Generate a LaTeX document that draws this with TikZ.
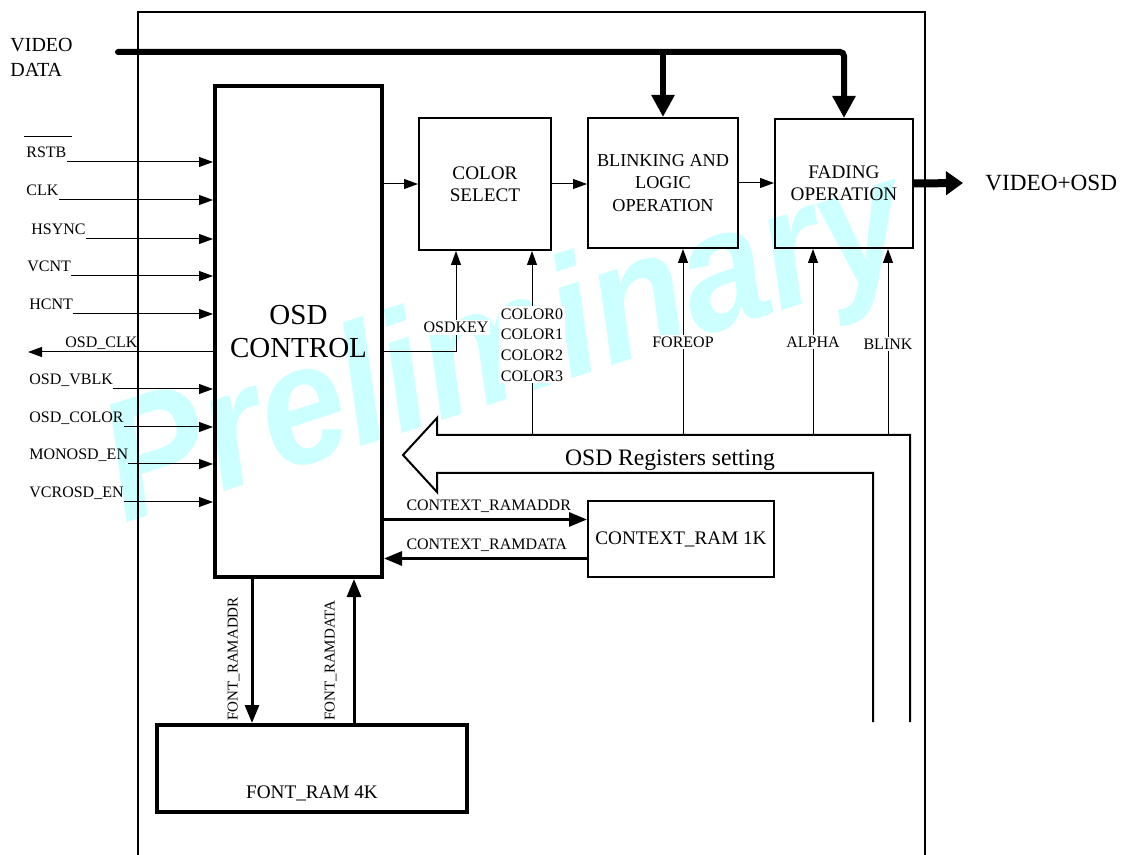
\documentclass[tikz,border=0pt]{standalone}
\usepackage{fontspec}
\setmainfont{Liberation Serif}
\newfontfamily\wmfont{Liberation Sans}
\usetikzlibrary{arrows.meta}
\definecolor{wmcyan}{RGB}{204,255,255}

\begin{document}
\begin{tikzpicture}[
  x=0.5pt, y=-0.5pt,
  box/.style={draw, line width=1pt, align=center, inner sep=0pt,
    font=\fontsize{9.6}{11}\selectfont},
  lbl/.style={inner xsep=0pt, inner ysep=2pt, text depth=0pt,
    font=\fontsize{8}{10}\selectfont},
  vlbl/.style={inner sep=0pt, text depth=0pt, font=\fontsize{7.5}{9}\selectfont},
  tag/.style={fill=white, inner sep=1pt, align=left,
    font=\fontsize{8}{10.35}\selectfont},
  sig/.style={line width=0.5pt, -{Triangle[length=7pt,width=5pt]}},
  fat/.style={line width=1.5pt, -{Triangle[length=9pt,width=7pt]}},
  bus/.style={line width=3pt, -{Triangle[length=11pt,width=11pt]}}
]
  \useasboundingbox (0,0) rectangle (1125,855);

  \node[
    rotate=18,
    xscale=0.9,
    anchor=base west,
    inner sep=0pt,
    text=wmcyan,
    font=\wmfont\bfseries\itshape\fontsize{85}{90}\selectfont
  ] (wmark) at (124,524) {Preliminary};

  \draw[line width=0.6pt] (138,855) -- (138,12) -- (925,12) -- (925,855);

  \node[box, line width=2pt, minimum width=83.5pt, minimum height=245.5pt,
    font=\fontsize{14.5}{16.5}\selectfont] (osd) at (298.5,331.5) {OSD\\CONTROL};
  \node[box, minimum width=66pt, minimum height=66pt] (colsel) at (485,184) {COLOR\\SELECT};
  \node[box, minimum width=75pt, minimum height=65pt,
    font=\fontsize{9.1}{11.1}\selectfont] (blink) at (663,183) {BLINKING AND\\LOGIC\\OPERATION};
  \node[box, minimum width=69pt, minimum height=64.5pt] (fade) at (844,183.5) {FADING\\OPERATION};
  \node[box, minimum width=93pt, minimum height=38pt] (ctxram) at (681,539) {CONTEXT\_RAM 1K};
  \node[box, line width=2pt, minimum width=155pt, minimum height=43.5pt] (fontram) at (312,768.5) {};
  \node[font=\fontsize{9.6}{11.5}\selectfont, inner sep=0pt] (fontramlbl) at (312,793) {FONT\_RAM 4K};

  \node[anchor=west, align=left, inner sep=0pt,
    font=\fontsize{10}{12.5}\selectfont] (vdata) at (10,57) {VIDEO\\DATA};
  \node[anchor=west, inner sep=0pt, font=\fontsize{11.6}{14}\selectfont] (vidout) at (985,183) {VIDEO+OSD};

  \coordinate (vin) at (118,52);
  \coordinate (tap) at (663,52);
  \draw[bus, line cap=round, rounded corners=2pt] (vin) -- (vin -| fade.north) -- (fade.north);
  \draw[bus] (tap) -- (tap |- blink.north);

  \draw[sig] (osd.east |- colsel.west) -- (colsel.west);
  \draw[sig] (colsel.east) -- (colsel.east -| blink.west);
  \draw[sig] (blink.east) -- (blink.east -| fade.west);
  \draw[line width=4pt, -{Triangle[length=8.5pt,width=11.5pt]}] (fade.east) -- ([xshift=-11pt]vidout.west);

  \foreach \nm/\lx/\ly/\txt in {rstb/26/162/RSTB, clk/26/200/CLK, hsync/31/239/HSYNC,
    vcnt/27/276/VCNT, hcnt/29/314/HCNT, vblk/29/389/OSD\_VBLK, osdcolor/29/427/OSD\_COLOR,
    monosd/29/464/MONOSD\_EN, vcrosd/29/502/VCROSD\_EN} {
    \node[lbl, anchor=south west] (\nm) at (\lx,\ly) {\txt};
    \draw[sig] (\nm.south east) -- (\nm.south east -| osd.west);
  }
  \draw[line width=0.5pt] ([shift={(-1pt,3pt)}]rstb.north west) -- ++(48,0);

  \coordinate (clkrow) at (0,352);
  \coordinate (clkout) at (28,352);
  \coordinate (keyx) at (456,0);
  \node[lbl, anchor=south west] (osdclk) at (65,352) {OSD\_CLK};
  \draw[sig] (osd.west |- clkrow) -- (clkout);
  \draw[sig] (osd.east |- clkrow) -| node[tag, pos=0.62] (osdkey) {OSDKEY} (keyx |- colsel.south);

  \draw[line width=1pt] (910,722) -- (910,435) -- (437,435) -- (437,418) -- (403,455)
    -- (437,492) -- (437,473) -- (873,473) -- (873,722);
  \node[font=\fontsize{11.8}{14}\selectfont, inner sep=0pt] (regs) at (670,460) {OSD Registers setting};

  \coordinate (regc) at (532,435);
  \coordinate (rego) at (683,435);
  \coordinate (rega) at (813,435);
  \coordinate (regb) at (888,435);
  \draw[sig] (regc) -- node[tag, pos=0.49] (colors) {COLOR0\\COLOR1\\COLOR2\\COLOR3} (regc |- colsel.south);
  \draw[sig] (rego) -- node[tag, pos=0.5] (foreop) {FOREOP} (rego |- blink.south);
  \draw[sig] (rega) -- node[tag, pos=0.5] (alpha) {ALPHA} (rega |- fade.south);
  \draw[sig] (regb) -- node[tag, pos=0.49] (blinkin) {BLINK} (regb |- fade.south);

  \coordinate (caddr) at ([yshift=9.75pt]ctxram.west);
  \coordinate (cdata) at ([yshift=-9.75pt]ctxram.west);
  \draw[fat] (osd.east |- caddr) -- (caddr)
    node[lbl, pos=0, anchor=south west, xshift=10.5pt, yshift=1.5pt] (ctxaddr) {CONTEXT\_RAMADDR};
  \draw[fat] (cdata) -- (osd.east |- cdata)
    node[lbl, pos=1, anchor=south west, xshift=10.5pt, yshift=1.5pt] (ctxdata) {CONTEXT\_RAMDATA};

  \coordinate (faddr) at ([xshift=-23.25pt]osd.south);
  \coordinate (fdata) at ([xshift=27.75pt]osd.south);
  \coordinate (faddrend) at (faddr |- fontram.north);
  \coordinate (fdataend) at (fdata |- fontram.north);
  \draw[fat] (faddr) -- (faddrend);
  \draw[fat] (fdataend) -- (fdata);
  \node[vlbl, xshift=-7pt, yshift=1pt, rotate=90, anchor=south west] (faddrlbl) at (faddrend) {FONT\_RAMADDR};
  \node[vlbl, xshift=-9.5pt, yshift=1pt, rotate=90, anchor=south west] (fdatalbl) at (fdataend) {FONT\_RAMDATA};
\end{tikzpicture}
\end{document}
